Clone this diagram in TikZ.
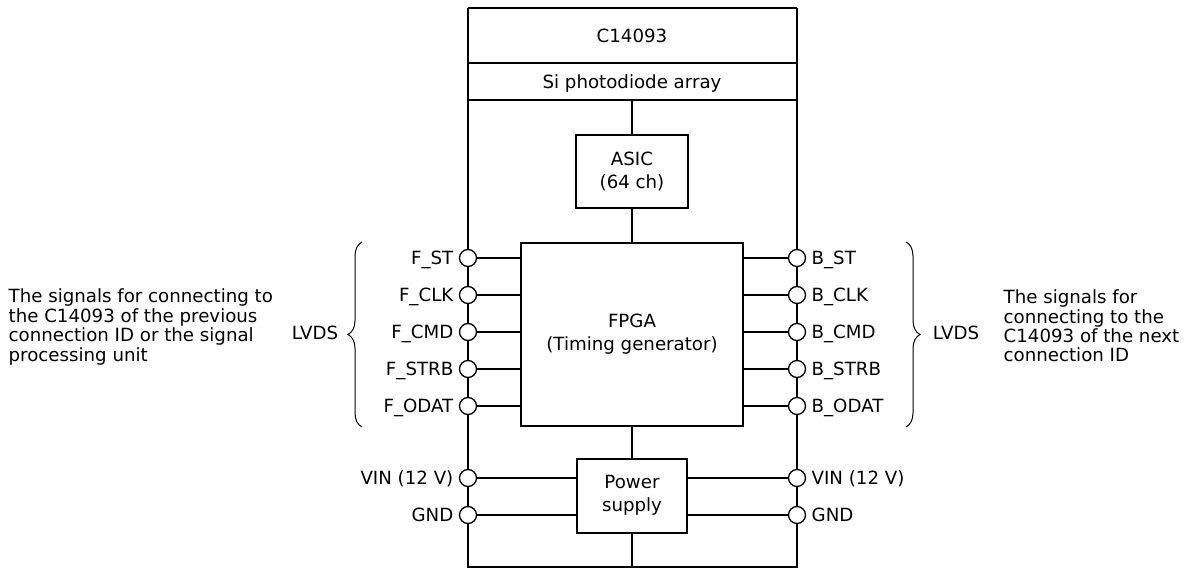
\documentclass[tikz,border=0pt]{standalone}
\usepackage{fontspec}
\setmainfont{DejaVu Sans}
\usetikzlibrary{decorations.pathreplacing}
\begin{document}
\begin{tikzpicture}[x=1pt,y=-1pt,line width=1.3pt,
  every node/.style={font=\fontsize{18.2}{19.4}\selectfont,inner sep=0pt},
  inbox/.style={align=center,font=\fontsize{18.2}{22.6}\selectfont},
  lbl/.style={text height=13.2pt,text depth=0pt},
  pin/.style={circle,draw,fill=white,minimum size=17pt,inner sep=0pt,line width=1.3pt},
  brc/.style={decorate,decoration={brace,amplitude=14pt},line width=1pt}]
\useasboundingbox (0,0) rectangle (1184,569);
% outer frame
\coordinate (TL) at (468,8);
\coordinate (TR) at (797,8);
\coordinate (BL) at (468,567);
\coordinate (BR) at (797,567);
\coordinate (BM) at (632,567);
\draw (TL) -- (TR);
\draw (468,63) -- (797,63);
\draw (468,100) -- (797,100);
\draw (TL) -- (BL) -- (BR) -- (TR);
\node[lbl] (c) at (632,36) {C14093};
\node[lbl] (si) at (632,82) {Si photodiode array};
\coordinate (siB) at (632,100);
% boxes
\draw (576,135) rectangle (688,208);
\node[inbox] (asic) at (632,171.5) {ASIC\\(64 ch)};
\coordinate (asicT) at (632,135);
\coordinate (asicB) at (632,208);
\draw (521,243) rectangle (743,426);
\node[inbox] (fpga) at (632,334) {FPGA\\(Timing generator)};
\coordinate (fpgaT) at (632,243);
\coordinate (fpgaB) at (632,426);
\draw (577,459) rectangle (687,533);
\node[inbox] (ps) at (632,495.5) {Power\\supply};
\coordinate (psT) at (632,459);
\coordinate (psB) at (632,533);
\draw (siB) -- (asicT);
\draw (asicB) -- (fpgaT);
\draw (fpgaB) -- (psT);
\draw (psB) -- (BM);
% signals
\foreach \y/\l/\r [count=\i] in {258/F\_ST/B\_ST,295/F\_CLK/B\_CLK,332/F\_CMD/B\_CMD,369/F\_STRB/B\_STRB,406/F\_ODAT/B\_ODAT}{
  \node[pin] (lp\i) at (468,\y) {};
  \node[pin] (rp\i) at (797,\y) {};
  \coordinate (fl\i) at (521,\y);
  \coordinate (fr\i) at (743,\y);
  \draw (lp\i) -- (fl\i);
  \draw (rp\i) -- (fr\i);
  \node[lbl,anchor=east] (ll\i) at (454,\y) {\l};
  \node[lbl,anchor=west] (rl\i) at (811,\y) {\r};
}
\foreach \y/\l [count=\i] in {478/VIN (12 V),515/GND}{
  \node[pin] (lq\i) at (468,\y) {};
  \node[pin] (rq\i) at (797,\y) {};
  \coordinate (pl\i) at (577,\y);
  \coordinate (pr\i) at (687,\y);
  \draw (lq\i) -- (pl\i);
  \draw (rq\i) -- (pr\i);
  \node[lbl,anchor=east] (ql\i) at (454,\y) {\l};
  \node[lbl,anchor=west] (qr\i) at (811,\y) {\l};
}
% braces
\coordinate (b1s) at (362,427);
\coordinate (b1e) at (362,242);
\draw[brc] (b1s) -- (b1e);
\coordinate (b2s) at (906,242);
\coordinate (b2e) at (906,427);
\draw[brc] (b2s) -- (b2e);
\node[lbl] (lv1) at (315,333) {LVDS};
\node[lbl] (lv2) at (956,333) {LVDS};
\node[align=left,anchor=west] (lt) at (8,327) {The signals for connecting to\\the C14093 of the previous\\connection ID or the signal\\processing unit};
\node[align=left,anchor=west] (rt) at (1003,326) {The signals for\\connecting to the\\C14093 of the next\\connection ID};
\end{tikzpicture}
\end{document}
